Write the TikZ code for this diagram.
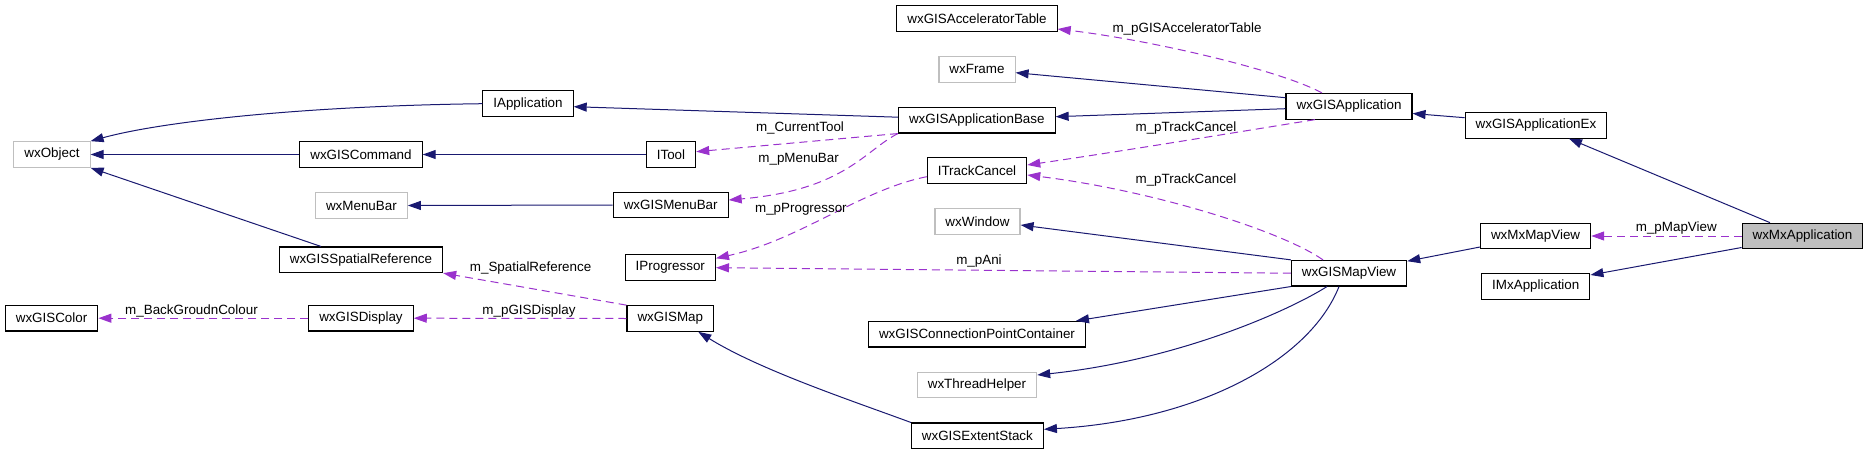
\documentclass[tikz,border=0pt]{standalone}
\usepackage{fontspec}
\setmainfont{Liberation Sans}
\usetikzlibrary{arrows.meta}
\definecolor{inhc}{HTML}{191970}
\definecolor{usec}{HTML}{9A32CD}
\definecolor{extc}{HTML}{BFBFBF}
\begin{document}
\begin{tikzpicture}[x=1pt,y=-1pt,
  cls/.style={draw=black, line width=1.1pt, fill=white, inner xsep=10.5pt, inner ysep=0pt,
    minimum height=25.6pt, font=\fontsize{13.4}{15}\selectfont},
  extcls/.style={cls, draw=extc},
  focus/.style={cls, fill=extc},
  inhedge/.style={draw=inhc, line width=1pt, -{Triangle[length=13pt,width=9pt]}},
  useedge/.style={draw=usec, line width=1pt, dash pattern=on 8pt off 5pt, -{Triangle[length=13pt,width=9pt]}},
  lbl/.style={inner sep=0pt, font=\fontsize{13.4}{15}\selectfont}]
\useasboundingbox (0,0) rectangle (1869,455);
% nodes
\node[extcls] (obj)   at (52,154.5)   {wxObject};
\node[cls]    (iapp)  at (528,103.7)  {IApplication};
\node[cls]    (cmd)   at (361,154.5)  {wxGISCommand};
\node[cls]    (tool)  at (671,154.5)  {ITool};
\node[extcls] (mb)    at (361.4,205.5){wxMenuBar};
\node[cls]    (gmb)   at (670.7,205)  {wxGISMenuBar};
\node[cls]    (acc)   at (977,18.7)   {wxGISAcceleratorTable};
\node[extcls] (frame) at (977,69.3)   {wxFrame};
\node[cls]    (apb)   at (976.8,120.2){wxGISApplicationBase};
\node[cls]    (tc)    at (977,170.3)  {ITrackCancel};
\node[extcls] (win)   at (977.5,221.5){wxWindow};
\node[cls]    (gapp)  at (1349,106.3) {wxGISApplication};
\node[cls]    (gappex) at (1536,125.3){wxGISApplicationEx};
\node[focus]  (mxapp) at (1802.5,236) {wxMxApplication};
\node[cls]    (mxmv)  at (1535.6,236) {wxMxMapView};
\node[cls]    (imx)   at (1535.8,286.5){IMxApplication};
\node[cls]    (gmv)   at (1349,273.2) {wxGISMapView};
\node[cls]    (sr)    at (361,259.8)  {wxGISSpatialReference};
\node[cls]    (prog)  at (670.3,267.7){IProgressor};
\node[cls]    (col)   at (51.6,318.2) {wxGISColor};
\node[cls]    (disp)  at (361,318.2)  {wxGISDisplay};
\node[cls]    (map)   at (670.3,318.5){wxGISMap};
\node[cls]    (cpc)   at (977,334.2)  {wxGISConnectionPointContainer};
\node[extcls] (th)    at (977,385)    {wxThreadHelper};
\node[cls]    (es)    at (977.4,435.8){wxGISExtentStack};
% inheritance edges
\draw[inhedge] (iapp.west) .. controls (300,106) and (160,122) .. (obj.north east);
\draw[inhedge] (cmd.west) -- (obj.east);
\draw[inhedge] ([xshift=-40pt]sr.north) -- (obj.south east);
\draw[inhedge] ([yshift=3pt]apb.west) -- ([yshift=-3pt]iapp.east);
\draw[inhedge] (tool.west) -- (cmd.east);
\draw[inhedge] (gmb.west) -- (mb.east);
\draw[inhedge] ([yshift=8.6pt]gapp.west) -- ([yshift=-3.4pt]frame.east);
\draw[inhedge] ([yshift=-2.4pt]gapp.west) -- ([yshift=3.5pt]apb.east);
\draw[inhedge] ([yshift=7.6pt]gappex.west) -- ([yshift=-7.2pt]gapp.east);
\draw[inhedge] ([xshift=-32.5pt]mxapp.north) -- ([xshift=33pt]gappex.south);
\draw[inhedge] ([yshift=-11pt]mxmv.west) -- ([yshift=12pt]gmv.east);
\draw[inhedge] ([yshift=-11.5pt]mxapp.west) -- ([yshift=11.5pt]imx.east);
\draw[inhedge] (gmv.north west) -- ([yshift=-3.5pt]win.east);
\draw[inhedge] (gmv.south west) -- ([xshift=-10pt]cpc.north east);
\draw[inhedge] ([xshift=-22pt]gmv.south) .. controls (1290,310) and (1180,360) .. ([yshift=10pt]th.east);
\draw[inhedge] ([xshift=-10pt]gmv.south) .. controls (1310,360) and (1200,420) .. ([yshift=6.5pt]es.east);
\draw[inhedge] (es.north west) .. controls (850,400) and (760,370) .. ([xshift=28pt]map.south);
% usage edges
\draw[useedge] ([xshift=-27pt]gapp.north) .. controls (1280,70) and (1150,40) .. ([yshift=-10.3pt]acc.east);
\draw[useedge] (apb.south west) -- ([yshift=2.8pt]tool.east);
\draw[useedge] (apb.south west) .. controls (865,150) and (845,190) .. ([yshift=5pt]gmb.east);
\draw[useedge] ([xshift=-34pt]gapp.south) .. controls (1250,130) and (1130,150) .. ([yshift=5.3pt]tc.east);
\draw[useedge] ([xshift=-26pt]gmv.north) .. controls (1280,230) and (1150,190) .. ([yshift=-4.7pt]tc.east);
\draw[useedge] ([yshift=-6.4pt]tc.west) .. controls (860,190) and (800,240) .. ([yshift=9.4pt]prog.east);
\draw[useedge] (gmv.west) -- (prog.east);
\draw[useedge] (map.north west) -- (sr.south east);
\draw[useedge] (map.west) -- (disp.east);
\draw[useedge] (disp.west) -- (col.east);
\draw[useedge] (mxapp.west) -- (mxmv.east);
% labels
\node[lbl] (l1)  at (1187,29)    {m\_pGISAcceleratorTable};
\node[lbl] (l2)  at (800,128)    {m\_CurrentTool};
\node[lbl] (l3)  at (798.6,159.3){m\_pMenuBar};
\node[lbl] (l4)  at (800.9,209.3){m\_pProgressor};
\node[lbl] (l5)  at (1186,127.7) {m\_pTrackCancel};
\node[lbl] (l6)  at (1186,180)   {m\_pTrackCancel};
\node[lbl] (l7)  at (979,260.7)  {m\_pAni};
\node[lbl] (l8)  at (530.6,267.7){m\_SpatialReference};
\node[lbl] (l9)  at (529,310.7)  {m\_pGISDisplay};
\node[lbl] (l10) at (191.5,310.7){m\_BackGroudnColour};
\node[lbl] (l11) at (1676.3,227.7){m\_pMapView};
\end{tikzpicture}
\end{document}
